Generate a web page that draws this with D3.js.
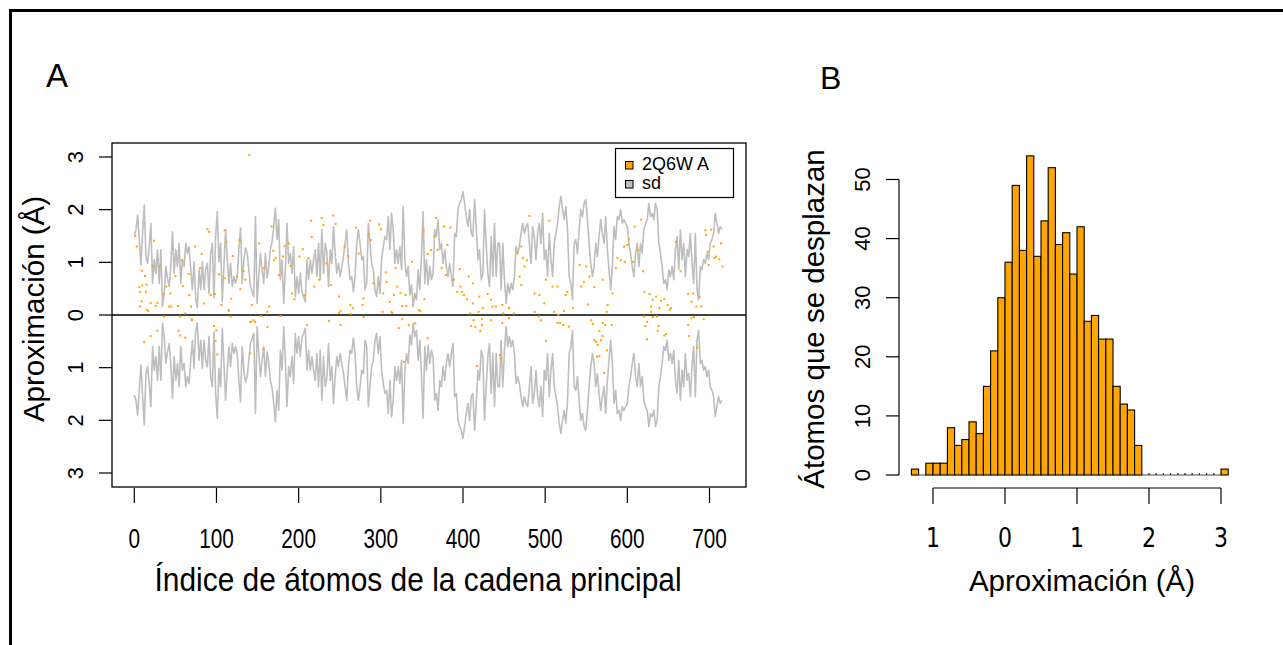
<!DOCTYPE html>
<html><head><meta charset="utf-8">
<script src="https://cdn.jsdelivr.net/npm/d3@7"></script>
<style>body{margin:0;background:#fff}svg{display:block}</style>
</head><body><div id="c"></div>
<script>
// ---------- DATA ----------
// Panel A: standard deviation (sd) trace, sampled every ~2 atoms
const sdStep = 2.02;
const sdValues = [
1.52,1.62,1.90,1.43,0.95,1.55,2.09,1.11,0.98,1.30,
1.74,0.60,1.05,0.79,1.24,0.60,1.24,0.16,0.41,0.92,
0.70,0.54,0.92,1.58,0.79,1.24,0.92,1.36,0.60,1.05,
0.92,1.36,1.17,1.30,0.86,0.48,1.01,0.29,0.15,0.86,
0.48,1.01,0.48,0.86,0.98,0.41,1.17,1.36,0.32,1.49,
1.96,1.01,1.36,0.25,0.92,1.62,1.05,0.60,0.98,0.54,
0.73,0.60,0.73,1.24,1.65,0.60,1.05,1.27,1.17,0.86,
0.54,0.44,0.35,1.87,0.22,0.73,1.17,0.86,0.60,1.17,
0.70,0.92,1.24,1.39,1.68,2.03,1.43,1.81,0.67,1.05,
0.22,0.86,1.74,0.98,1.17,0.79,1.30,0.35,0.73,0.41,
0.79,0.44,0.35,0.25,1.05,0.67,1.05,0.79,1.05,1.24,
0.73,1.36,0.67,1.62,0.79,1.36,1.20,0.54,1.24,0.98,
1.68,
1.17,0.79,0.98,0.73,0.92,1.11,1.36,1.62,0.98,0.67,
0.73,0.44,0.73,1.36,1.62,1.36,1.05,1.11,0.48,0.60,
1.74,1.36,0.98,0.86,0.48,0.35,0.73,0.41,1.05,1.30,
1.49,1.43,1.87,1.24,1.93,1.62,0.98,1.24,0.98,1.30,
0.86,2.06,1.05,0.73,0.92,0.38,0.57,0.16,0.41,0.29,
0.86,0.48,1.11,1.96,0.60,1.05,0.57,0.92,0.67,0.79,
1.62,1.49,1.81,1.24,1.36,0.98,1.24,0.92,0.73,0.98,
0.73,0.54,1.55,1.49,2.00,2.12,2.19,2.34,2.12,1.87,
1.68,2.00,1.55,1.49,2.19,1.68,1.05,1.24,0.67,0.79,
2.00,1.36,0.79,0.54,1.49,0.73,1.74,0.73,1.36,1.36,
0.48,1.36,0.67,0.22,0.60,0.41,0.60,0.48,0.73,1.30,
1.17,1.30,1.55,1.74,1.55,1.68,1.74,1.36,0.98,1.68,
1.49,1.05,1.55,1.74,1.36,1.93,1.05,1.24,0.73,1.55,
1.05,0.73,1.36,1.55,1.74,2.06,2.25,2.00,1.81,2.06,
1.62,0.73,0.60,0.29,1.36,1.43,1.17,1.62,2.00,1.87,
2.12,2.19,1.81,1.36,0.98,0.73,0.92,1.36,1.11,1.49,
1.81,1.55,1.36,1.87,1.24,0.86,0.48,0.92,1.68,1.43,
1.87,1.81,2.00,1.74,1.81,1.74,1.68,1.36,1.17,0.92,
0.73,1.17,1.36,0.92,1.36,1.17,1.62,1.74,1.81,2.12,
1.87,1.93,1.81,2.12,2.00,1.36,1.17,0.92,0.60,0.67,
0.48,0.86,0.73,0.92,0.67,1.24,1.49,0.86,1.62,1.05,
1.36,0.73,1.24,1.11,1.55,0.98,0.60,1.55,0.48,0.29,
0.92,0.86,1.05,0.98,1.17,1.05,1.36,1.43,1.55,1.93,
1.74,1.55,1.68,1.62
];
// Panel A: approximation per atom (visible points): atom index and value (Å)
const ptIndex = [140,1,3,9,13,6,10,15,7,14,7,9,17,20,24,22,31,28,26,35,39,42,45,44,50,53,58,59,66,67,69,74,80,82,89,91,85,93,98,103,106,110,112,110,115,118,120,125,128,129,133,135,143,152,158,164,167,169,172,170,176,181,183,188,190,195,192,201,205,207,212,215,216,219,225,228,230,234,239,242,245,249,251,256,260,263,266,270,273,278,279,285,287,288,291,298,300,303,306,307,311,313,316,318,320,324,326,330,331,338,342,346,352,353,357,
367,365,361,369,374,377,385,381,379,396,389,393,397,399,401,407,412,405,412,420,424,430,434,436,440,448,456,466,471,473,475,469,471,481,478,487,493,499,501,505,509,515,525,527,534,542,544,547,550,552,554,560,570,576,582,586,588,592,596,600,597,602,607,613,617,609,619,621,627,631,629,635,639,641,645,649,653,659,665,674,680,678,684,688,690,695,696,698,702,705,708,712,714,716,706,699,
12,20,28,54,56,62,70,97,100,99,101,142,147,162,157,141,210,237,15,36,56,62,70,115,117,141,145,154,162,178,249,251,263,279,302,314,322,326,328,334,342,348,357,
409,419,413,410,415,423,423,421,434,448,449,456,462,417,445,446,487,492,495,501,511,516,515,518,522,529,523,556,558,560,562,564,566,570,573,570,568,563,566,575,581,572,575,620,624,622,629,631,636,638,637,624,645,647,675,674,678,681,693,685,652];
const ptValue = [3.04,1.50,1.30,0.84,0.74,0.53,0.56,0.58,0.44,0.44,0.16,0.26,0.08,0.23,1.41,0.93,0.92,0.23,0.17,0.40,0.54,0.16,0.16,0.41,0.74,0.17,1.04,0.55,0.78,0.38,0.16,1.30,0.89,1.16,1.63,1.58,0.22,0.38,0.40,0.77,0.19,1.61,1.39,0.70,0.09,0.31,1.12,0.73,1.42,0.49,0.83,0.67,0.19,1.36,0.89,0.16,1.68,1.22,1.08,1.04,0.76,1.11,1.31,1.36,0.93,0.30,0.41,1.11,1.25,0.38,1.08,1.79,1.48,0.54,0.67,1.84,1.71,0.98,0.57,1.89,1.73,0.35,0.08,1.30,1.12,0.19,0.13,1.66,1.17,0.19,0.31,1.53,1.79,1.42,0.60,1.72,1.63,0.41,0.81,0.63,0.25,0.06,0.38,0.89,0.54,0.42,0.17,0.38,0.17,1.01,0.35,0.09,1.61,0.30,1.16,
1.84,1.49,1.23,1.24,0.89,1.68,1.66,1.33,0.76,0.87,0.67,0.44,0.54,0.44,0.38,0.73,0.60,0.30,0.22,0.35,0.13,0.40,0.29,0.16,0.16,0.19,0.13,1.17,1.30,1.08,0.92,0.73,0.57,1.88,1.04,0.41,0.38,0.22,0.67,1.79,0.54,0.54,0.38,0.44,0.13,0.95,0.54,0.63,0.92,0.20,0.73,0.53,0.67,0.19,0.41,0.89,1.08,1.04,1.30,1.33,1.01,1.43,1.01,1.24,1.81,1.68,0.83,0.44,0.40,0.29,0.16,0.35,0.13,0.27,0.30,0.19,0.13,1.39,0.83,0.40,0.41,0.25,0.16,0.35,0.16,1.61,1.52,1.20,1.62,1.30,1.11,1.06,1.36,0.92,1.08,0.95,
-0.51,-0.40,-0.30,-0.30,-0.39,-0.43,-0.10,-0.21,-0.29,-0.49,-0.75,-0.13,-0.13,-0.23,-0.65,-0.73,-0.19,-0.11,0.10,-0.03,-0.03,0.03,-0.08,0.08,-0.03,-0.13,-0.10,-0.02,0.06,-0.02,0.04,-0.19,0.02,-0.04,0.06,0.04,-0.25,-0.08,-0.89,-0.19,-0.16,0.08,-0.44,
0.03,0.06,-0.10,-0.21,-0.23,-0.08,-0.19,-0.30,-0.10,-0.15,0.03,-0.06,0.03,-0.97,-0.76,-0.82,0.06,-0.03,-0.10,-0.49,0.06,0.00,-0.15,-0.15,-0.19,-0.22,0.08,-0.10,-0.17,-0.48,-0.51,-0.57,-0.30,-0.15,-0.19,-0.40,-0.48,-0.79,-0.78,-0.67,-0.19,-1.10,0.06,-0.03,-0.13,-0.21,0.06,-0.04,-0.03,-0.21,-0.30,-0.46,-0.39,-0.36,-0.40,-0.19,-0.06,-0.04,-0.08,-0.62,0.10];
const xTicksA = [0,100,200,300,400,500,600,700];
const yTicksA = [3,2,1,0,-1,-2,-3];
const yTickLabelsA = ["3","2","1","0","1","2","3"];
const legendLabels = ["2Q6W A","sd"];

// Panel B: histogram
const binStarts = d3.range(44).map(i => -1.3 + i*0.1);
const binCounts = [1,0,2,2,2,8,5,6,9,7,15,21,30,36,49,38,54,37,43,52,39,41,34,42,26,27,23,23,15,12,11,5,0,0,0,0,0,0,0,0,0,0,0,1];
const binWidth = 0.1;
const xTicksB = [-1,0,1,2,3];
const xTickLabelsB = ["1","0","1","2","3"];
const yTicksB = [0,10,20,30,40,50];

// ---------- DRAW ----------
const W = 1283, H = 645;
const ORANGE = "#FFA500", GRAY = "#BEBEBE";
const svg = d3.select("#c").append("svg").attr("width", W).attr("height", H);
svg.append("rect").attr("width", W).attr("height", H).attr("fill", "#fff");
svg.append("rect").attr("x", 10.5).attr("y", 10.5).attr("width", W + 20).attr("height", H + 20)
  .attr("fill", "none").attr("stroke", "#000").attr("stroke-width", 3);

const SANS = "'Liberation Sans', Arial, sans-serif";

// Panel A
const box = {l: 112, r: 746, t: 143, b: 487};
const xA = d3.scaleLinear().domain([0, 700]).range([134.3, 709.5]);
const yA = d3.scaleLinear().domain([-3, 3]).range([473, 157]);
const gA = svg.append("g");
gA.append("defs").append("clipPath").attr("id", "clipA").append("rect")
  .attr("x", box.l).attr("y", box.t).attr("width", box.r - box.l).attr("height", box.b - box.t);
const plotA = gA.append("g").attr("clip-path", "url(#clipA)");

const sdData = sdValues.map((v, i) => ({x: i * sdStep, v}));
const lineTop = d3.line().x(d => xA(d.x)).y(d => yA(d.v));
const lineBot = d3.line().x(d => xA(d.x)).y(d => yA(-d.v));
plotA.append("path").datum(sdData).attr("d", lineTop).attr("fill", "none").attr("stroke", GRAY).attr("stroke-width", 1.6).attr("stroke-linejoin", "round");
plotA.append("path").datum(sdData).attr("d", lineBot).attr("fill", "none").attr("stroke", GRAY).attr("stroke-width", 1.6).attr("stroke-linejoin", "round");
plotA.append("line").attr("x1", box.l).attr("x2", box.r).attr("y1", yA(0)).attr("y2", yA(0)).attr("stroke", "#000").attr("stroke-width", 1.3);
const pts = ptIndex.map((x, i) => ({x, v: ptValue[i]}));
plotA.selectAll("rect.pt").data(pts).enter().append("rect").attr("class", "pt")
  .attr("x", d => xA(d.x) - 1).attr("y", d => yA(d.v) - 1).attr("width", 2).attr("height", 2).attr("fill", ORANGE);
gA.append("rect").attr("x", box.l).attr("y", box.t).attr("width", box.r - box.l).attr("height", box.b - box.t)
  .attr("fill", "none").attr("stroke", "#000").attr("stroke-width", 1.3);

// x axis A (condensed lettering)
const xaxA = gA.append("g");
xaxA.selectAll("line").data(xTicksA).enter().append("line")
  .attr("x1", d => xA(d)).attr("x2", d => xA(d)).attr("y1", 488).attr("y2", 503).attr("stroke", "#000").attr("stroke-width", 1.2);
xaxA.selectAll("text").data(xTicksA).enter().append("text")
  .attr("transform", d => `translate(${xA(d)},548) scale(0.77,1)`).attr("text-anchor", "middle")
  .attr("font-family", SANS).attr("font-size", 27).text(d => d);
gA.append("text").attr("transform", "translate(418,591) scale(0.88,1)").attr("text-anchor", "middle")
  .attr("font-family", SANS).attr("font-size", 34).text("Índice de átomos de la cadena principal");

// y axis A
const yaxA = gA.append("g");
yaxA.selectAll("line").data(yTicksA).enter().append("line")
  .attr("x1", 99).attr("x2", box.l).attr("y1", d => yA(d)).attr("y2", d => yA(d)).attr("stroke", "#000").attr("stroke-width", 1.2);
yaxA.selectAll("text").data(yTicksA).enter().append("text")
  .attr("transform", d => `translate(83,${yA(d)}) rotate(-90)`).attr("text-anchor", "middle")
  .attr("font-family", SANS).attr("font-size", 22).text((d, i) => yTickLabelsA[i]);
gA.append("text").attr("transform", "translate(44,309) rotate(-90)").attr("text-anchor", "middle")
  .attr("font-family", SANS).attr("font-size", 29.5).text("Aproximación (Å)");

// legend
const lg = gA.append("g");
lg.append("rect").attr("x", 615.5).attr("y", 148.5).attr("width", 118).attr("height", 49).attr("fill", "#fff").attr("stroke", "#000").attr("stroke-width", 1.2);
[ORANGE, GRAY].forEach((c, i) => {
  lg.append("rect").attr("x", 625.5).attr("y", 161.5 + i * 19).attr("width", 7.5).attr("height", 7.5).attr("fill", c).attr("stroke", "#000").attr("stroke-width", 1);
  lg.append("text").attr("x", 642).attr("y", 170 + i * 19).attr("font-family", SANS).attr("font-size", 18).text(legendLabels[i]);
});
svg.append("text").attr("x", 46).attr("y", 87).attr("font-family", SANS).attr("font-size", 33).text("A");

// Panel B
const xB = d3.scaleLinear().domain([-1, 3]).range([933, 1221]);
const yB = d3.scaleLinear().domain([0, 50]).range([475, 179.5]);
const gB = svg.append("g");
const binData = binCounts.map((c, i) => ({c, x0: binStarts[i], x1: binStarts[i] + binWidth}));
gB.selectAll("rect.bar").data(binData.filter(d => d.c > 0)).enter().append("rect").attr("class", "bar")
  .attr("x", d => xB(d.x0)).attr("width", d => xB(d.x1) - xB(d.x0))
  .attr("y", d => yB(d.c)).attr("height", d => yB(0) - yB(d.c))
  .attr("fill", ORANGE).attr("stroke", "#000").attr("stroke-width", 1.1);
// empty bins are drawn as flat outlines on the baseline
gB.selectAll("path.zero").data(binData.filter(d => d.c === 0)).enter().append("path").attr("class", "zero")
  .attr("d", d => `M${xB(d.x0)},${yB(0) - 2}V${yB(0)}H${xB(d.x1)}V${yB(0) - 2}`)
  .attr("fill", "none").attr("stroke", "#333").attr("stroke-width", 0.9);
// x axis B
gB.append("line").attr("x1", xB(-1)).attr("x2", xB(3)).attr("y1", 488).attr("y2", 488).attr("stroke", "#000").attr("stroke-width", 1.2);
gB.selectAll("line.xt").data(xTicksB).enter().append("line").attr("class", "xt")
  .attr("x1", d => xB(d)).attr("x2", d => xB(d)).attr("y1", 488).attr("y2", 504).attr("stroke", "#000").attr("stroke-width", 1.2);
gB.selectAll("text.xl").data(xTicksB).enter().append("text").attr("class", "xl")
  .attr("transform", d => `translate(${xB(d)},547) scale(0.85,1)`).attr("text-anchor", "middle")
  .attr("font-family", "'DejaVu Sans', sans-serif").attr("font-size", 26).text((d, i) => xTickLabelsB[i]);
gB.append("text").attr("x", 1082).attr("y", 591).attr("text-anchor", "middle")
  .attr("font-family", SANS).attr("font-size", 29.5).text("Aproximación (Å)");
// y axis B
gB.append("line").attr("x1", 899).attr("x2", 899).attr("y1", yB(0)).attr("y2", yB(50)).attr("stroke", "#000").attr("stroke-width", 1.2);
gB.selectAll("line.yt").data(yTicksB).enter().append("line").attr("class", "yt")
  .attr("x1", 886).attr("x2", 899).attr("y1", d => yB(d)).attr("y2", d => yB(d)).attr("stroke", "#000").attr("stroke-width", 1.2);
gB.selectAll("text.yl").data(yTicksB).enter().append("text").attr("class", "yl")
  .attr("transform", d => `translate(870,${yB(d)}) rotate(-90)`).attr("text-anchor", "middle")
  .attr("font-family", SANS).attr("font-size", 22).text(d => d);
gB.append("text").attr("transform", "translate(824,319) rotate(-90)").attr("text-anchor", "middle")
  .attr("font-family", SANS).attr("font-size", 29.5).text("Átomos que se desplazan");
svg.append("text").attr("x", 820).attr("y", 89).attr("font-family", SANS).attr("font-size", 32).text("B");
</script></body></html>
